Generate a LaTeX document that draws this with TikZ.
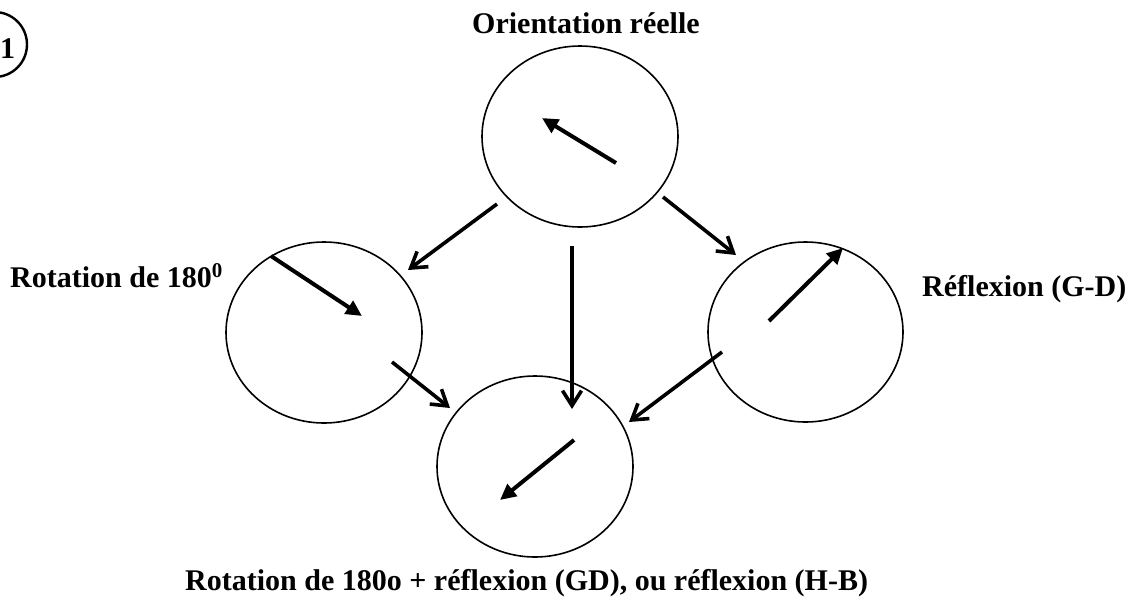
\documentclass[tikz,border=0pt]{standalone}
\usepackage{fontspec}
\setmainfont{Liberation Serif}
\usetikzlibrary{shapes.geometric,arrows.meta}
\begin{document}
\begin{tikzpicture}[x=1pt,y=-1pt,
  oval/.style={draw,ellipse,line width=1.6pt,inner sep=0pt},
  link/.style={line width=3.6pt,-{Straight Barb[length=15pt,width=19pt,line width=3.6pt]}},
  dir/.style={line width=4pt,-{Triangle[length=16pt,width=15pt]}},
  lab/.style={font=\fontsize{30}{34}\selectfont\bfseries,inner sep=0pt,anchor=base west}]
\useasboundingbox (0,0) rectangle (1135,598);
% ellipses
\node[oval,minimum width=196pt,minimum height=181pt] (top) at (580,136.5) {};
\node[oval,minimum width=196pt,minimum height=181pt] (left) at (324,332.5) {};
\node[oval,minimum width=195pt,minimum height=180pt] (right) at (805.5,332) {};
\node[oval,minimum width=196pt,minimum height=181pt] (bot) at (535,466.5) {};
% labels
\node[lab] (ltop) at (472,33) {Orientation réelle};
\node[lab] (lleft) at (10,287) {Rotation de 180\textsuperscript{0}};
\node[lab] (lright) at (922,296) {Réflexion (G-D)};
\node[lab] (lbot) at (185,590) {Rotation de 180o + réflexion (GD), ou réflexion (H-B)};
% circled number
\node[draw,circle,line width=2.4pt,minimum size=65pt,inner sep=0pt] (num) at (-5.5,44.5) {};
\node[lab] (numtxt) at (0,58) {1};
% connector end points
\coordinate (a1) at (497,204); \coordinate (a2) at (408,270);
\coordinate (b1) at (663,197); \coordinate (b2) at (736,255);
\coordinate (c1) at (572,246); \coordinate (c2) at (572,409);
\coordinate (d1) at (392,362); \coordinate (d2) at (450,408);
\coordinate (e1) at (722,352); \coordinate (e2) at (629,422);
\draw[link] (a1) -- (a2);
\draw[link] (b1) -- (b2);
\draw[link] (c1) -- (c2);
\draw[link] (d1) -- (d2);
\draw[link] (e1) -- (e2);
% inner direction arrows
\coordinate (t1) at (616,163); \coordinate (t2) at (542,118);
\coordinate (l1) at (271,256); \coordinate (l2) at (362,316);
\coordinate (r1) at (769,321); \coordinate (r2) at (843,248);
\coordinate (m1) at (574,440); \coordinate (m2) at (500,500);
\draw[dir] (t1) -- (t2);
\draw[dir] (l1) -- (l2);
\draw[dir] (r1) -- (r2);
\draw[dir] (m1) -- (m2);
\end{tikzpicture}
\end{document}
